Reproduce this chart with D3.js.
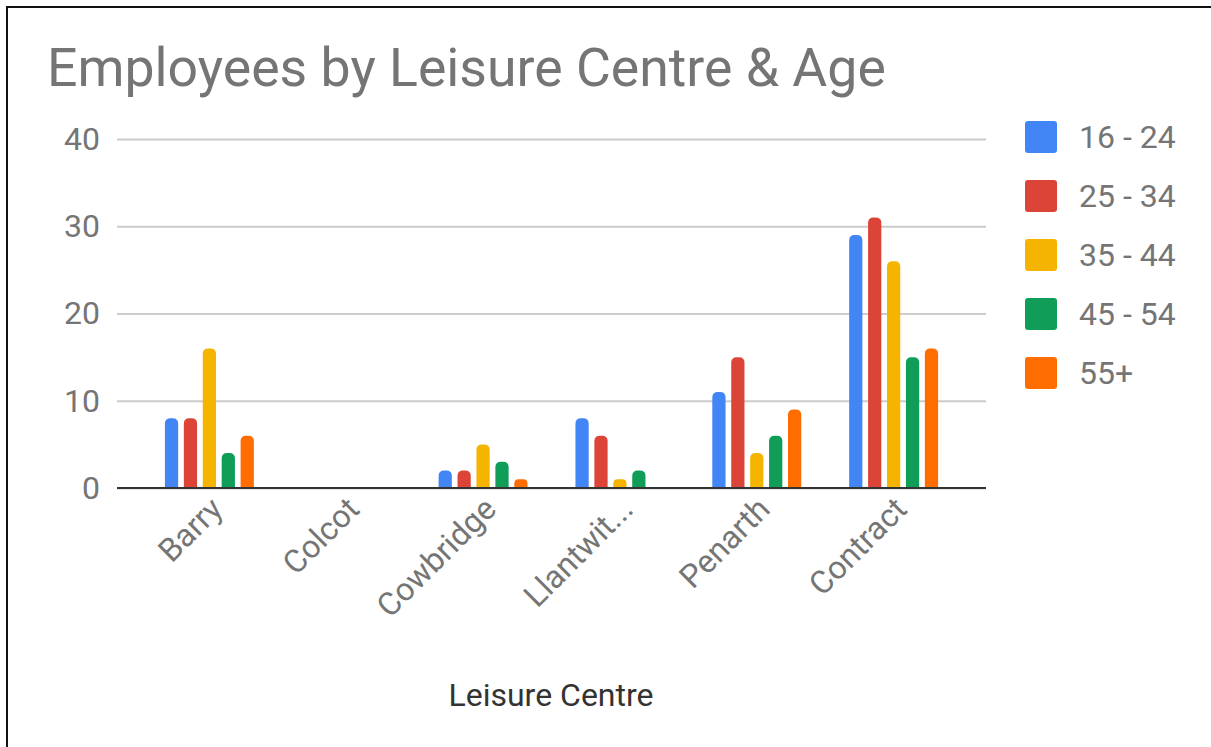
<!DOCTYPE html>
<html>
<head>
<meta charset="utf-8">
<script src="https://cdn.jsdelivr.net/npm/d3@7"></script>
<style>
  body { margin: 0; background: #fff; }
  text { font-family: Roboto, "Noto Sans", sans-serif; }
</style>
</head>
<body>
<svg width="1211" height="747"></svg>
<script>
const centres = ["Barry", "Colcot", "Cowbridge", "Llantwit...", "Penarth", "Contract"];
const ageGroups = ["16 - 24", "25 - 34", "35 - 44", "45 - 54", "55+"];
const colours = ["#4285f4", "#db4437", "#f4b400", "#0f9d58", "#ff6d00"];
// one array per age group, in centre order
const age16_24 = [8, 0, 2, 8, 11, 29];
const age25_34 = [8, 0, 2, 6, 15, 31];
const age35_44 = [16, 0, 5, 1, 4, 26];
const age45_54 = [4, 0, 3, 2, 6, 15];
const age55plus = [6, 0, 1, 0, 9, 16];
const yTicks = [0, 10, 20, 30, 40];

const series = [age16_24, age25_34, age35_44, age45_54, age55plus];

const svg = d3.select("svg"),
      width = +svg.attr("width"),
      height = +svg.attr("height");

const plot = {left: 117, right: 986, top: 139, bottom: 488};

// frame (top and left edges only)
svg.append("path")
    .attr("d", `M7,${height} V7 H${width}`)
    .attr("fill", "none")
    .attr("stroke", "#111")
    .attr("stroke-width", 2);

svg.append("text")
    .attr("x", 47)
    .attr("y", 86)
    .attr("font-size", 53.6)
    .attr("fill", "#757575")
    .text("Employees by Leisure Centre & Age");

const y = d3.scaleLinear().domain([0, 40]).range([plot.bottom, plot.top]);

const x0 = d3.scaleBand()
    .domain(centres)
    .range([plot.left, plot.right])
    .paddingInner(0.35)
    .paddingOuter(0.35);

const x1 = d3.scaleBand()
    .domain(d3.range(ageGroups.length))
    .range([0, x0.bandwidth()])
    .paddingInner(0.3);

// gridlines + y labels
const yAxis = svg.append("g")
    .attr("transform", `translate(${plot.left},0)`)
    .call(d3.axisLeft(y).tickValues(yTicks).tickSize(-(plot.right - plot.left)).tickPadding(17));
yAxis.select(".domain").remove();
yAxis.selectAll(".tick line").attr("stroke", "#cccccc").attr("stroke-width", 2);
yAxis.selectAll(".tick text")
    .attr("font-size", 32)
    .attr("fill", "#757575")
    .attr("font-family", "Roboto, 'Noto Sans', sans-serif");

// bars, rounded top
const bars = svg.append("g");
centres.forEach(function(c, i) {
  series.forEach(function(s, k) {
    const v = s[i];
    if (v <= 0) return;
    const bx = x0(c) + x1(k), bw = x1.bandwidth();
    const top = y(v), bot = y(0), r = Math.min(5.5, (bot - top) / 2);
    bars.append("path")
        .attr("d", `M${bx},${bot} V${top + r} Q${bx},${top} ${bx + r},${top} H${bx + bw - r} Q${bx + bw},${top} ${bx + bw},${top + r} V${bot} Z`)
        .attr("fill", colours[k]);
  });
});

// baseline
svg.append("line")
    .attr("x1", plot.left).attr("x2", plot.right)
    .attr("y1", y(0)).attr("y2", y(0))
    .attr("stroke", "#333")
    .attr("stroke-width", 2);

// x labels rotated
svg.append("g").selectAll("text")
    .data(centres)
    .enter().append("text")
    .attr("transform", function(d) { return `translate(${x0(d) + x0.bandwidth() / 2 + 15},${plot.bottom + 23}) rotate(-45)`; })
    .attr("text-anchor", "end")
    .attr("font-size", 32)
    .attr("fill", "#757575")
    .text(function(d) { return d; });

svg.append("text")
    .attr("x", 551)
    .attr("y", 706)
    .attr("text-anchor", "middle")
    .attr("font-size", 32)
    .attr("fill", "#333")
    .text("Leisure Centre");

// legend
const legend = svg.append("g").selectAll("g")
    .data(ageGroups)
    .enter().append("g")
    .attr("transform", function(d, i) { return `translate(1025,${137 + i * 59})`; });
legend.append("rect")
    .attr("x", 0).attr("y", -16)
    .attr("width", 32).attr("height", 32)
    .attr("rx", 3)
    .attr("fill", function(d, i) { return colours[i]; });
legend.append("text")
    .attr("x", 54).attr("y", 0)
    .attr("dy", "0.35em")
    .attr("font-size", 32)
    .attr("fill", "#757575")
    .text(function(d) { return d; });
</script>
</body>
</html>
